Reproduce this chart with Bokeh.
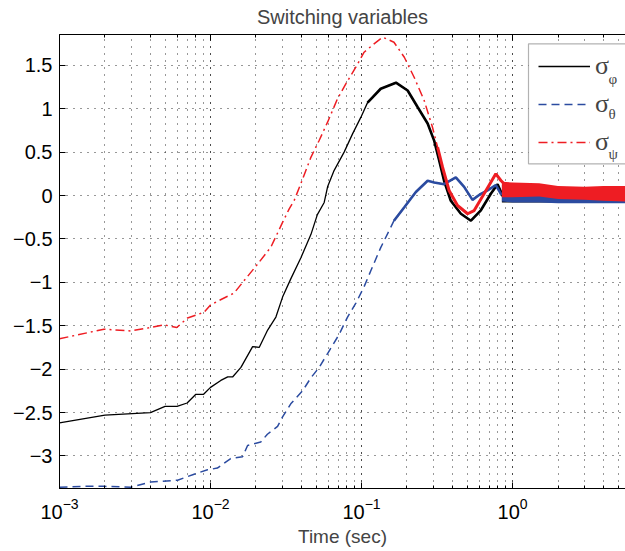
import numpy as np
from bokeh.plotting import figure
from bokeh.models import (LogAxis, FixedTicker, CustomJSTickFormatter, Legend, LegendItem,
                          BoxAnnotation, Label)
from bokeh.embed import file_html
from bokeh.resources import INLINE

title_text = "Switching variables"
x_label = "Time (sec)"
y_ticks = [-3, -2.5, -2, -1.5, -1, -0.5, 0, 0.5, 1, 1.5]
legend_base = ["σ", "σ", "σ"]
legend_subs = ["φ", "θ", "ψ"]

# sigma_phi (black, solid)
t_phi = [0.001, 0.002, 0.004, 0.005, 0.006, 0.007, 0.008, 0.009, 0.010, 0.0117,
         0.013, 0.014, 0.0159, 0.019, 0.021, 0.0239, 0.0271, 0.0300, 0.0340, 0.0396,
         0.0462, 0.0510, 0.0566, 0.0596, 0.0659, 0.0767, 0.0872, 0.0989, 0.1096, 0.134,
         0.169, 0.202, 0.235, 0.274, 0.303, 0.327, 0.352, 0.390, 0.455, 0.530,
         0.617, 0.718, 0.796, 0.880, 1.0, 1.5, 2.0, 3.0, 5.6]
v_phi = [-2.62, -2.53, -2.50, -2.43, -2.43, -2.39, -2.29, -2.29, -2.21, -2.13,
         -2.09, -2.09, -1.98, -1.74, -1.75, -1.55, -1.40, -1.17, -0.96, -0.72,
         -0.45, -0.22, -0.08, 0.10, 0.29, 0.50, 0.71, 0.90, 1.07, 1.23,
         1.30, 1.21, 1.02, 0.83, 0.63, 0.40, 0.17, -0.06, -0.21, -0.29,
         -0.17, 0.02, 0.13, -0.04, -0.02, -0.02, -0.02, -0.02, -0.01]

# sigma_theta (blue, dashed)
t_theta = [0.001, 0.00146, 0.00197, 0.00297, 0.00403, 0.00605, 0.00779, 0.00955, 0.0111, 0.0136,
           0.0163, 0.0176, 0.0215, 0.0238, 0.0278, 0.0300, 0.0340, 0.0407, 0.0462, 0.0524,
           0.0596, 0.0711, 0.0808, 0.0917, 0.104, 0.115, 0.134, 0.164, 0.192, 0.229,
           0.274, 0.303, 0.352, 0.421, 0.478, 0.543, 0.617, 0.683, 0.775, 0.837,
           1.0, 1.5, 2.0, 3.0, 5.6]
v_theta = [-3.36, -3.35, -3.35, -3.36, -3.30, -3.28, -3.21, -3.16, -3.14, -3.03,
           -3.01, -2.88, -2.84, -2.75, -2.66, -2.55, -2.40, -2.25, -2.10, -1.98,
           -1.82, -1.60, -1.40, -1.24, -1.05, -0.87, -0.60, -0.29, -0.135, 0.04,
           0.17, 0.15, 0.13, 0.21, 0.10, -0.05, 0.02, 0.06, 0.12, 0.02,
           0.01, 0.0, 0.0, -0.01, -0.01]

# sigma_psi (red, dash-dot)
t_psi = [0.001, 0.00197, 0.00297, 0.00403, 0.00493, 0.00598, 0.00705, 0.00907, 0.010, 0.0123,
         0.0143, 0.0167, 0.0205, 0.0251, 0.0300, 0.0332, 0.0358, 0.0396, 0.0462, 0.0524,
         0.0596, 0.0693, 0.0787, 0.0917, 0.104, 0.121, 0.138, 0.164, 0.192, 0.223,
         0.260, 0.295, 0.319, 0.344, 0.380, 0.432, 0.504, 0.557, 0.648, 0.775,
         0.837, 0.927, 1.5, 2.0, 3.0, 5.6]
v_psi = [-1.65, -1.54, -1.56, -1.52, -1.49, -1.52, -1.41, -1.345, -1.26, -1.18,
         -1.125, -0.98, -0.79, -0.595, -0.31, -0.153, -0.058, 0.135, 0.44, 0.634,
         0.845, 1.114, 1.287, 1.478, 1.651, 1.747, 1.824, 1.766, 1.593, 1.363,
         1.094, 0.787, 0.556, 0.326, 0.058, -0.115, -0.21, -0.173, 0.02, 0.25,
         0.173, 0.096, 0.05, 0.03, 0.03, 0.03]

# envelopes of the noisy steady-state tails
t_tail = [0.85, 1.0, 1.5, 2.0, 3.0, 4.0, 5.6]
phi_lo = [-0.08, -0.08, -0.08, -0.08, -0.07, -0.07, -0.07]
phi_hi = [0.06, 0.05, 0.04, 0.04, 0.04, 0.04, 0.04]
theta_lo = [-0.07, -0.08, -0.08, -0.09, -0.09, -0.09, -0.09]
theta_hi = [0.12, 0.10, 0.09, 0.08, 0.07, 0.07, 0.07]
psi_lo = [-0.02, -0.02, -0.01, -0.04, -0.05, -0.06, -0.07]
psi_hi = [0.16, 0.15, 0.14, 0.11, 0.10, 0.11, 0.11]

FONT = "Liberation Sans"
BLACK = "#000000"
BLUE = "#2b4ba0"
RED = "#ee1d23"

p = figure(x_axis_type="log", x_range=(1e-3, 10 ** 0.748), y_range=(-3.375, 1.855),
           frame_width=566, frame_height=454,
           min_border_left=59, min_border_right=0, min_border_top=34, min_border_bottom=63,
           output_backend="svg", toolbar_location=None, title=title_text)
p.outline_line_color = None
p.background_fill_color = "white"
p.border_fill_color = "white"

p.title.text_font = FONT
p.title.text_font_size = "20px"
p.title.text_font_style = "normal"
p.title.align = "center"
p.title.standoff = 10
p.title.vertical_align = "top"

for ax in (p.xaxis[0], p.yaxis[0]):
    ax.major_tick_in = 6
    ax.major_tick_out = 0
    ax.minor_tick_in = 3
    ax.minor_tick_out = 0
    ax.axis_line_color = "black"
    ax.major_tick_line_color = "black"
    ax.minor_tick_line_color = "black"
    ax.major_label_text_font = FONT
    ax.major_label_text_font_size = "20px"
    ax.major_label_text_color = "black"

p.xaxis.axis_label = x_label
p.xaxis.axis_label_text_font = FONT
p.xaxis.axis_label_text_font_size = "19px"
p.xaxis.axis_label_text_font_style = "normal"
p.xaxis.axis_label_standoff = 4
p.xaxis.major_label_standoff = 9

p.yaxis.ticker = FixedTicker(ticks=y_ticks)
p.yaxis.formatter = CustomJSTickFormatter(
    code="return (tick < 0 ? '\u2212' : '') + Math.abs(tick).toString();")
p.yaxis.minor_tick_line_color = None
p.yaxis.major_label_standoff = 7

top_axis = LogAxis(major_tick_in=6, major_tick_out=0, minor_tick_in=3, minor_tick_out=0,
                   major_label_text_font_size="1px", major_label_standoff=0,
                   formatter=CustomJSTickFormatter(code="return '';"),
                   axis_line_color="black")
p.add_layout(top_axis, "above")

grid_col = "#303030"
p.xgrid.grid_line_color = grid_col
p.xgrid.grid_line_dash = "1 6"
p.xgrid.minor_grid_line_color = grid_col
p.xgrid.minor_grid_line_dash = "1 6"
p.ygrid.grid_line_color = grid_col
p.ygrid.grid_line_dash = "1 6"

def part(t, v, t0):
    t = np.asarray(t); v = np.asarray(v)
    m = t >= t0
    return t[m], v[m]

# sigma_phi
r_phi = p.line(t_phi, v_phi, line_color=BLACK, line_width=1.3)
tp, vp = part(t_phi, v_phi, 0.1)
p.line(tp, vp, line_color=BLACK, line_width=2.6)
p.varea(x=t_tail, y1=phi_lo, y2=phi_hi, fill_color=BLACK)

# sigma_theta
r_theta = p.line(t_theta, v_theta, line_color=BLUE, line_width=1.5, line_dash="8 5")
tt, vt = part(t_theta, v_theta, 0.16)
p.line(tt, vt, line_color=BLUE, line_width=2.6)
p.varea(x=t_tail, y1=theta_lo, y2=theta_hi, fill_color=BLUE)

# sigma_psi
r_psi = p.line(t_psi, v_psi, line_color=RED, line_width=1.5, line_dash="9 4 2 4")
ts, vs = part(t_psi, v_psi, 0.3)
p.line(ts, vs, line_color=RED, line_width=3)
p.varea(x=t_tail, y1=psi_lo, y2=psi_hi, fill_color=RED)

# legend frame
box = BoxAnnotation(left=469, right=700, top=444.7, bottom=324.7,
                    left_units="screen", right_units="screen",
                    top_units="screen", bottom_units="screen",
                    fill_color="white", fill_alpha=1.0, line_color="black", line_width=1.2)
p.add_layout(box)

legend = Legend(items=[LegendItem(label=legend_base[0], renderers=[r_phi]),
                       LegendItem(label=legend_base[1], renderers=[r_theta]),
                       LegendItem(label=legend_base[2], renderers=[r_psi])],
                location=(469, 316.75), orientation="vertical", padding=10, spacing=0,
                margin=0, glyph_width=52, glyph_height=38, label_height=38,
                label_standoff=5, label_text_font="Liberation Serif",
                label_text_font_size="26px", background_fill_alpha=0, border_line_alpha=0)
p.add_layout(legend)

for sub, y in zip(legend_subs, [410, 375, 335]):
    p.add_layout(Label(x=549, y=y, x_units="screen", y_units="screen", text=sub,
                       text_font="Liberation Serif", text_font_size="15px",
                       text_baseline="middle", text_align="left"))

open("out.html", "w").write(file_html(p, INLINE))
